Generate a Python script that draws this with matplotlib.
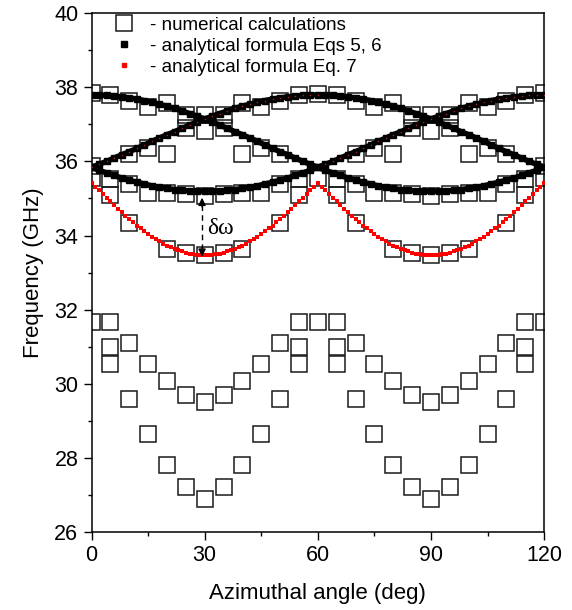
import numpy as np
import matplotlib.pyplot as plt
from matplotlib.lines import Line2D

plt.rcParams['font.family'] = ['Liberation Sans', 'DejaVu Sans']

nan = np.nan

# numerical eigenfrequencies, every 5 deg
angle_num = np.arange(0, 121, 5)
num_top = [37.83, 37.79, 37.63, 37.46, 37.56, 37.24, 37.24, 37.24, 37.56, 37.46, 37.63, 37.79, 37.81,
           37.79, 37.63, 37.46, 37.56, 37.24, 37.24, 37.24, 37.56, 37.46, 37.63, 37.79, 37.83]
num_mid = [35.87, nan, 36.20, 36.35, 36.20, 36.91, 36.81, 36.91, 36.20, 36.35, 36.20, nan, nan,
           nan, 36.20, 36.35, 36.20, 36.91, 36.81, 36.91, 36.20, 36.35, 36.20, nan, 35.87]
num_low = [35.54, 35.52, 35.38, 35.16, 35.16, 35.11, 35.07, 35.11, 35.16, 35.16, 35.38, 35.52, 35.54,
           35.52, 35.38, 35.16, 35.16, 35.11, 35.07, 35.11, 35.16, 35.16, 35.38, 35.52, 35.54]
num_red = [nan, 35.08, 34.35, nan, 33.64, 33.53, 33.48, 33.53, 33.64, nan, 34.35, 35.08, nan,
           35.08, 34.35, nan, 33.64, 33.53, 33.48, 33.53, 33.64, nan, 34.35, 35.08, nan]
num_v1 = [31.66, 31.66, 31.11, 30.53, 30.08, 29.70, 29.51, 29.70, 30.08, 30.53, 31.11, 31.66, 31.66,
          31.66, 31.11, 30.53, 30.08, 29.70, 29.51, 29.70, 30.08, 30.53, 31.11, 31.66, 31.66]
num_v2 = [nan, 31.00, 29.59, 28.65, 27.82, 27.21, 26.91, 27.21, 27.82, 28.65, 29.59, 31.00, nan,
          31.00, 29.59, 28.65, 27.82, 27.21, 26.91, 27.21, 27.82, 28.65, 29.59, 31.00, nan]
num_v3 = [nan, 30.55, nan, nan, nan, nan, nan, nan, nan, nan, nan, 30.55, nan,
          30.55, nan, nan, nan, nan, nan, nan, nan, nan, nan, 30.55, nan]

# analytical branches (Eqs 5, 6), every 2 deg
angle_eq = np.arange(0, 121, 2)
eq56_a = [37.79, 37.79, 37.78, 37.76, 37.74, 37.71, 37.68, 37.64, 37.59, 37.54,
          37.49, 37.43, 37.36, 37.29, 37.22, 37.14, 37.06, 36.98, 36.89, 36.80,
          36.72, 36.63, 36.54, 36.44, 36.35, 36.26, 36.18, 36.09, 36.00, 35.92,
          35.84, 35.76, 35.69, 35.62, 35.55, 35.49, 35.44, 35.39, 35.34, 35.30,
          35.27, 35.24, 35.22, 35.20, 35.19, 35.19, 35.19, 35.20, 35.22, 35.24,
          35.27, 35.30, 35.34, 35.39, 35.44, 35.49, 35.55, 35.62, 35.69, 35.76,
          35.84]
eq56_b = [35.84, 35.92, 36.00, 36.09, 36.18, 36.26, 36.35, 36.44, 36.54, 36.63,
          36.72, 36.80, 36.89, 36.98, 37.06, 37.14, 37.22, 37.29, 37.36, 37.43,
          37.49, 37.54, 37.59, 37.64, 37.68, 37.71, 37.74, 37.76, 37.78, 37.79,
          37.79, 37.79, 37.78, 37.76, 37.74, 37.71, 37.68, 37.64, 37.59, 37.54,
          37.49, 37.43, 37.36, 37.29, 37.22, 37.14, 37.06, 36.98, 36.89, 36.80,
          36.72, 36.63, 36.54, 36.44, 36.35, 36.26, 36.18, 36.09, 36.00, 35.92,
          35.84]
eq56_c = [35.84, 35.76, 35.69, 35.62, 35.55, 35.49, 35.44, 35.39, 35.34, 35.30,
          35.27, 35.24, 35.22, 35.20, 35.19, 35.19, 35.19, 35.20, 35.22, 35.24,
          35.27, 35.30, 35.34, 35.39, 35.44, 35.49, 35.55, 35.62, 35.69, 35.76,
          35.84, 35.92, 36.00, 36.09, 36.18, 36.26, 36.35, 36.44, 36.54, 36.63,
          36.72, 36.80, 36.89, 36.98, 37.06, 37.14, 37.22, 37.29, 37.36, 37.43,
          37.49, 37.54, 37.59, 37.64, 37.68, 37.71, 37.74, 37.76, 37.78, 37.79,
          37.79]

# Eq. 7: upper branch (rides on the rising Eq 5,6 curves) and lower branch every 1 deg
eq7_upper = [35.84, 35.92, 36.00, 36.09, 36.18, 36.26, 36.35, 36.44, 36.54, 36.63,
             36.72, 36.80, 36.89, 36.98, 37.06, 37.14, 37.22, 37.29, 37.36, 37.43,
             37.49, 37.54, 37.59, 37.64, 37.68, 37.71, 37.74, 37.76, 37.78, 37.79,
             37.79, 35.92, 36.00, 36.09, 36.18, 36.26, 36.35, 36.44, 36.54, 36.63,
             36.72, 36.80, 36.89, 36.98, 37.06, 37.14, 37.22, 37.29, 37.36, 37.43,
             37.49, 37.54, 37.59, 37.64, 37.68, 37.71, 37.74, 37.76, 37.78, 37.79,
             37.79]
angle_fine = np.arange(0, 121, 1)
eq7_lower = [35.42, 35.32, 35.22, 35.12, 35.01, 34.92, 34.82, 34.72, 34.63, 34.53,
             34.45, 34.36, 34.27, 34.19, 34.12, 34.04, 33.97, 33.90, 33.84, 33.78,
             33.73, 33.68, 33.64, 33.60, 33.57, 33.54, 33.51, 33.49, 33.48, 33.47,
             33.47, 33.47, 33.48, 33.49, 33.51, 33.54, 33.57, 33.60, 33.64, 33.68,
             33.73, 33.78, 33.84, 33.90, 33.97, 34.04, 34.12, 34.19, 34.27, 34.36,
             34.45, 34.53, 34.63, 34.72, 34.82, 34.92, 35.01, 35.12, 35.22, 35.32,
             35.42,
             35.32, 35.22, 35.12, 35.01, 34.92, 34.82, 34.72, 34.63, 34.53,
             34.45, 34.36, 34.27, 34.19, 34.12, 34.04, 33.97, 33.90, 33.84, 33.78,
             33.73, 33.68, 33.64, 33.60, 33.57, 33.54, 33.51, 33.49, 33.48, 33.47,
             33.47, 33.47, 33.48, 33.49, 33.51, 33.54, 33.57, 33.60, 33.64, 33.68,
             33.73, 33.78, 33.84, 33.90, 33.97, 34.04, 34.12, 34.19, 34.27, 34.36,
             34.45, 34.53, 34.63, 34.72, 34.82, 34.92, 35.01, 35.12, 35.22, 35.32,
             35.42]

# splitting between the Eq 5,6 minimum and the Eq. 7 minimum at 30 deg
split_angle = 29.3
split_top = 35.02
split_bottom = 33.43

legend_labels = ['- numerical calculations',
                 '- analytical formula Eqs 5, 6',
                 '- analytical formula Eq. 7']

fig = plt.figure(figsize=(5.72, 6.10), dpi=100)
ax = fig.add_axes([0.160, 0.1274, 0.7913, 0.8513])

sq_style = dict(ls='none', marker='s', ms=11.5, mfc='none', mec='#1a1a1a', mew=1.1, zorder=2)
for f in (num_top, num_mid, num_low, num_red, num_v1, num_v2, num_v3):
    ax.plot(angle_num, f, **sq_style)

for f in (eq56_a, eq56_b, eq56_c):
    ax.plot(angle_eq, f, color='black', lw=3.9, marker='s', ms=3.8, zorder=3)

ax.plot(angle_fine, eq7_lower, ls='none', marker='s', ms=2.3, mew=0, color='#ff0000', zorder=4)
ax.plot(angle_eq, eq7_upper, ls='none', marker='s', ms=1.0, mew=0, color='#ff3030',
        alpha=0.7, zorder=4)

# dashed double arrow for the splitting
ax.plot([split_angle, split_angle], [split_top - 0.2, split_bottom + 0.2], color='black',
        lw=1.0, ls=(0, (4, 3)), zorder=5)
for y0, y1 in ((split_top - 0.25, split_top), (split_bottom + 0.25, split_bottom)):
    ax.annotate('', xy=(split_angle, y1), xytext=(split_angle, y0),
                arrowprops=dict(arrowstyle='-|>', color='black', lw=1.0,
                                mutation_scale=11, shrinkA=0, shrinkB=0), zorder=5)
ax.text(split_angle + 1.4, 34.2, 'δω', fontsize=17, va='center', ha='left',
        family=['Liberation Serif', 'DejaVu Serif'])

ax.set_xlim(0, 120)
ax.set_ylim(26, 40)
ax.set_xticks([0, 30, 60, 90, 120])
ax.set_xticks([15, 45, 75, 105], minor=True)
ax.set_yticks(np.arange(26, 41, 2))
ax.set_yticks(np.arange(27, 40, 2), minor=True)
ax.tick_params(which='major', direction='out', length=5.5, width=1.0, labelsize=15.5, pad=4)
ax.tick_params(which='minor', direction='out', length=3.0, width=1.0)
for s in ax.spines.values():
    s.set_linewidth(1.1)

ax.set_xlabel('Azimuthal angle (deg)', fontsize=16, labelpad=12)
ax.set_ylabel('Frequency (GHz)', fontsize=16, labelpad=7)

handles = [Line2D([], [], ls='none', marker='s', ms=11.5, mfc='none', mec='#1a1a1a', mew=1.1),
           Line2D([], [], ls='none', marker='s', ms=4.5, color='black'),
           Line2D([], [], ls='none', marker='s', ms=2.6, color='#ff0000')]
ax.legend(handles, legend_labels, loc='upper left', bbox_to_anchor=(0.03, 1.0),
          frameon=False, fontsize=13.5, handlelength=1.6, handletextpad=0.6,
          labelspacing=0.2, borderaxespad=0.1, borderpad=0.1)

fig.savefig('out.png', dpi=100)
